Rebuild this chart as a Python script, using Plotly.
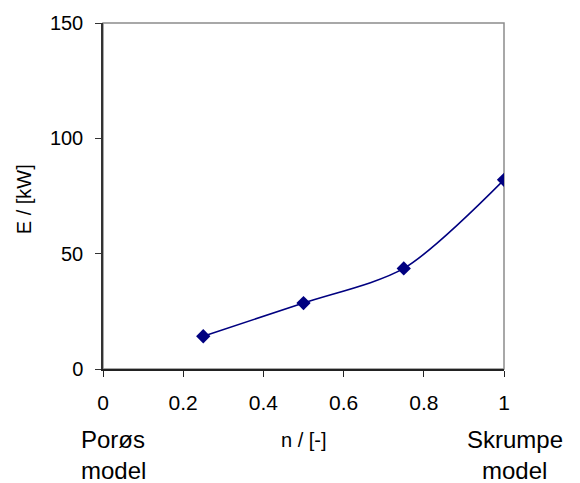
import plotly.graph_objects as go

# n / [-] and E / [kW]
n_values = [0.25, 0.5, 0.75, 1.0]
e_values = [14.2, 28.6, 43.6, 82.0]

x_ticks = [0, 0.2, 0.4, 0.6, 0.8, 1]
x_tick_labels = ["0", "0.2", "0.4", "0.6", "0.8", "1"]
y_ticks = [0, 50, 100, 150]

font_family = "Liberation Sans, Arial, sans-serif"
navy = "#000080"

fig = go.Figure()
fig.add_trace(go.Scatter(
    x=n_values, y=e_values, mode="lines+markers",
    line=dict(color=navy, width=1.6, shape="spline", smoothing=0.8),
    marker=dict(symbol="diamond", size=11, color=navy),
    showlegend=False))

# grey plot area border (top/right), axes drawn on top in black
fig.add_shape(type="rect", xref="paper", yref="paper", x0=0, y0=0, x1=1, y1=1,
              line=dict(color="#8c8c8c", width=1.5), layer="below")

fig.update_xaxes(range=[0, 1], tickvals=x_ticks, ticktext=x_tick_labels,
                 showgrid=False, zeroline=False, showline=True,
                 linecolor="#222222", linewidth=1.5,
                 ticks="outside", ticklen=6, tickcolor="#222222",
                 ticklabelstandoff=8,
                 tickfont=dict(size=21, color="black", family=font_family))
fig.update_yaxes(range=[0, 150], tickvals=y_ticks,
                 showgrid=False, zeroline=False, showline=True,
                 linecolor="#333333", linewidth=1.5,
                 ticks="outside", ticklen=6, tickcolor="#333333",
                 ticklabelstandoff=8,
                 tickfont=dict(size=20, color="black", family=font_family))

def label(text, x, y, size, angle=0):
    fig.add_annotation(text=text, x=x, y=y, xref="paper", yref="paper",
                       showarrow=False, textangle=angle,
                       xanchor="center", yanchor="middle",
                       font=dict(size=size, color="black", family=font_family))

label("n / [-]", 0.5, -0.204, 20)
label("E / [kW]", -0.195, 0.49, 20, angle=-90)
label("Porøs", 0.025, -0.204, 24)
label("model", 0.025, -0.292, 24)
label("Skrumpe", 1.027, -0.204, 24)
label("model", 1.027, -0.292, 24)

fig.update_layout(
    width=580, height=483,
    margin=dict(l=103, r=76, t=20, b=114),
    paper_bgcolor="white", plot_bgcolor="white",
    font=dict(family=font_family, color="black"))

fig.write_html("out.html", config={"displayModeBar": False},
               post_script="document.body.style.margin='0';")
